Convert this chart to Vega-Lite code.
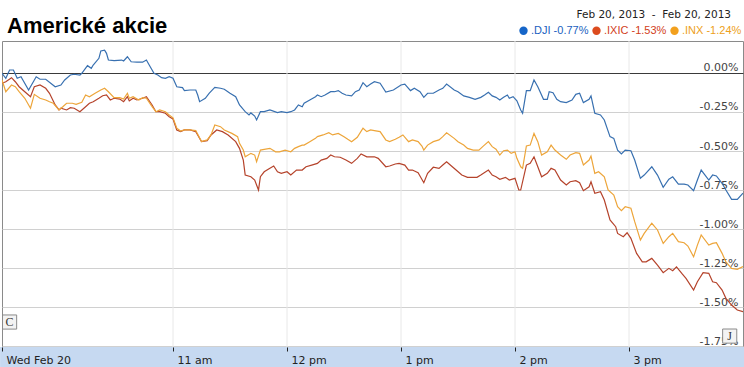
{
"$schema":"https://vega.github.io/schema/vega-lite/v6.json",
"width":741,"height":306,
"autosize":{"type":"none"},
"padding":{"left":2,"top":41,"right":1,"bottom":20},
"background":"white",
"title":{"text":"Americké akcie","anchor":"start","frame":"group","font":"Liberation Sans","fontSize":22,"fontWeight":"bold","color":"#000000","offset":10,"baseline":"alphabetic","dx":5,"dy":55},
"config":{"view":{"stroke":"#8a8a8a"}},
"layer":[
{
"data":{"values":[{"t":"11:00"},{"t":"12:00"},{"t":"13:00"},{"t":"14:00"},{"t":"15:00"}],"format":{"parse":{"t":"date:'%H:%M'"}}},
"mark":{"type":"rule","color":"#e8e8e8","strokeWidth":1},
"encoding":{"x":{"field":"t","type":"temporal","title":null}}
},
{
"data":{"values":[{"a":"09:29","b":"16:01","y1":-1.756,"y2":-1.9}],"format":{"parse":{"a":"date:'%H:%M'","b":"date:'%H:%M'"}}},
"mark":{"type":"rect","color":"#c6d9f1","clip":false},
"encoding":{"x":{"field":"a","type":"temporal","title":null},"x2":{"field":"b"},"y":{"field":"y1","type":"quantitative","title":null},"y2":{"field":"y2"}}
},
{
"data":{"values":[
{"s":".DJI","t":"09:30","v":-0.002},{"s":".DJI","t":"09:32","v":-0.034},{"s":".DJI","t":"09:34","v":0.019},{"s":".DJI","t":"09:36","v":0.019},{"s":".DJI","t":"09:38","v":-0.034},{"s":".DJI","t":"09:40","v":-0.024},{"s":".DJI","t":"09:44","v":-0.109},{"s":".DJI","t":"09:48","v":-0.024},{"s":".DJI","t":"09:50","v":-0.040},{"s":".DJI","t":"09:53","v":-0.040},{"s":".DJI","t":"09:58","v":-0.088},{"s":".DJI","t":"10:01","v":-0.077},{"s":".DJI","t":"10:03","v":-0.045},{"s":".DJI","t":"10:06","v":-0.013},{"s":".DJI","t":"10:08","v":-0.008},{"s":".DJI","t":"10:11","v":-0.013},{"s":".DJI","t":"10:12","v":-0.002},{"s":".DJI","t":"10:15","v":0.047},{"s":".DJI","t":"10:17","v":0.030},{"s":".DJI","t":"10:18","v":0.051},{"s":".DJI","t":"10:21","v":0.094},{"s":".DJI","t":"10:22","v":0.141},{"s":".DJI","t":"10:24","v":0.146},{"s":".DJI","t":"10:25","v":0.126},{"s":".DJI","t":"10:26","v":0.083},{"s":".DJI","t":"10:29","v":0.079},{"s":".DJI","t":"10:33","v":0.083},{"s":".DJI","t":"10:34","v":0.077},{"s":".DJI","t":"10:36","v":0.104},{"s":".DJI","t":"10:38","v":0.072},{"s":".DJI","t":"10:41","v":0.069},{"s":".DJI","t":"10:44","v":0.069},{"s":".DJI","t":"10:46","v":0.083},{"s":".DJI","t":"10:48","v":0.040},{"s":".DJI","t":"10:50","v":-0.002},{"s":".DJI","t":"10:52","v":-0.013},{"s":".DJI","t":"10:54","v":-0.030},{"s":".DJI","t":"10:56","v":-0.034},{"s":".DJI","t":"10:58","v":-0.024},{"s":".DJI","t":"11:00","v":-0.034},{"s":".DJI","t":"11:02","v":-0.088},{"s":".DJI","t":"11:05","v":-0.094},{"s":".DJI","t":"11:06","v":-0.113},{"s":".DJI","t":"11:09","v":-0.109},{"s":".DJI","t":"11:12","v":-0.109},{"s":".DJI","t":"11:13","v":-0.141},{"s":".DJI","t":"11:14","v":-0.184},{"s":".DJI","t":"11:17","v":-0.162},{"s":".DJI","t":"11:19","v":-0.130},{"s":".DJI","t":"11:22","v":-0.092},{"s":".DJI","t":"11:25","v":-0.098},{"s":".DJI","t":"11:27","v":-0.104},{"s":".DJI","t":"11:30","v":-0.130},{"s":".DJI","t":"11:33","v":-0.152},{"s":".DJI","t":"11:35","v":-0.205},{"s":".DJI","t":"11:38","v":-0.248},{"s":".DJI","t":"11:40","v":-0.269},{"s":".DJI","t":"11:41","v":-0.256},{"s":".DJI","t":"11:43","v":-0.276},{"s":".DJI","t":"11:44","v":-0.301},{"s":".DJI","t":"11:46","v":-0.248},{"s":".DJI","t":"11:48","v":-0.248},{"s":".DJI","t":"11:51","v":-0.237},{"s":".DJI","t":"11:55","v":-0.254},{"s":".DJI","t":"11:57","v":-0.248},{"s":".DJI","t":"12:00","v":-0.254},{"s":".DJI","t":"12:02","v":-0.248},{"s":".DJI","t":"12:04","v":-0.237},{"s":".DJI","t":"12:06","v":-0.205},{"s":".DJI","t":"12:08","v":-0.216},{"s":".DJI","t":"12:09","v":-0.194},{"s":".DJI","t":"12:12","v":-0.173},{"s":".DJI","t":"12:15","v":-0.152},{"s":".DJI","t":"12:16","v":-0.141},{"s":".DJI","t":"12:18","v":-0.152},{"s":".DJI","t":"12:20","v":-0.141},{"s":".DJI","t":"12:23","v":-0.120},{"s":".DJI","t":"12:25","v":-0.120},{"s":".DJI","t":"12:27","v":-0.113},{"s":".DJI","t":"12:29","v":-0.130},{"s":".DJI","t":"12:31","v":-0.141},{"s":".DJI","t":"12:34","v":-0.147},{"s":".DJI","t":"12:36","v":-0.120},{"s":".DJI","t":"12:38","v":-0.109},{"s":".DJI","t":"12:40","v":-0.062},{"s":".DJI","t":"12:42","v":-0.088},{"s":".DJI","t":"12:44","v":-0.071},{"s":".DJI","t":"12:46","v":-0.056},{"s":".DJI","t":"12:49","v":-0.066},{"s":".DJI","t":"12:52","v":-0.122},{"s":".DJI","t":"12:56","v":-0.109},{"s":".DJI","t":"13:00","v":-0.077},{"s":".DJI","t":"13:02","v":-0.071},{"s":".DJI","t":"13:05","v":-0.113},{"s":".DJI","t":"13:07","v":-0.098},{"s":".DJI","t":"13:10","v":-0.120},{"s":".DJI","t":"13:12","v":-0.156},{"s":".DJI","t":"13:14","v":-0.130},{"s":".DJI","t":"13:17","v":-0.130},{"s":".DJI","t":"13:20","v":-0.109},{"s":".DJI","t":"13:22","v":-0.098},{"s":".DJI","t":"13:24","v":-0.071},{"s":".DJI","t":"13:28","v":-0.109},{"s":".DJI","t":"13:30","v":-0.120},{"s":".DJI","t":"13:33","v":-0.147},{"s":".DJI","t":"13:36","v":-0.156},{"s":".DJI","t":"13:39","v":-0.169},{"s":".DJI","t":"13:42","v":-0.156},{"s":".DJI","t":"13:44","v":-0.141},{"s":".DJI","t":"13:46","v":-0.124},{"s":".DJI","t":"13:48","v":-0.147},{"s":".DJI","t":"13:50","v":-0.156},{"s":".DJI","t":"13:52","v":-0.173},{"s":".DJI","t":"13:54","v":-0.156},{"s":".DJI","t":"13:56","v":-0.141},{"s":".DJI","t":"13:57","v":-0.162},{"s":".DJI","t":"13:59","v":-0.152},{"s":".DJI","t":"14:01","v":-0.178},{"s":".DJI","t":"14:03","v":-0.237},{"s":".DJI","t":"14:04","v":-0.258},{"s":".DJI","t":"14:06","v":-0.113},{"s":".DJI","t":"14:08","v":-0.113},{"s":".DJI","t":"14:10","v":-0.045},{"s":".DJI","t":"14:12","v":-0.088},{"s":".DJI","t":"14:15","v":-0.169},{"s":".DJI","t":"14:17","v":-0.169},{"s":".DJI","t":"14:18","v":-0.120},{"s":".DJI","t":"14:20","v":-0.126},{"s":".DJI","t":"14:22","v":-0.169},{"s":".DJI","t":"14:24","v":-0.184},{"s":".DJI","t":"14:27","v":-0.190},{"s":".DJI","t":"14:30","v":-0.173},{"s":".DJI","t":"14:32","v":-0.137},{"s":".DJI","t":"14:34","v":-0.130},{"s":".DJI","t":"14:36","v":-0.190},{"s":".DJI","t":"14:39","v":-0.169},{"s":".DJI","t":"14:40","v":-0.147},{"s":".DJI","t":"14:42","v":-0.258},{"s":".DJI","t":"14:45","v":-0.269},{"s":".DJI","t":"14:47","v":-0.301},{"s":".DJI","t":"14:50","v":-0.408},{"s":".DJI","t":"14:52","v":-0.419},{"s":".DJI","t":"14:54","v":-0.494},{"s":".DJI","t":"14:56","v":-0.519},{"s":".DJI","t":"14:58","v":-0.494},{"s":".DJI","t":"15:01","v":-0.498},{"s":".DJI","t":"15:03","v":-0.558},{"s":".DJI","t":"15:06","v":-0.675},{"s":".DJI","t":"15:08","v":-0.654},{"s":".DJI","t":"15:12","v":-0.601},{"s":".DJI","t":"15:15","v":-0.654},{"s":".DJI","t":"15:18","v":-0.733},{"s":".DJI","t":"15:21","v":-0.681},{"s":".DJI","t":"15:23","v":-0.665},{"s":".DJI","t":"15:26","v":-0.712},{"s":".DJI","t":"15:29","v":-0.712},{"s":".DJI","t":"15:31","v":-0.718},{"s":".DJI","t":"15:34","v":-0.754},{"s":".DJI","t":"15:36","v":-0.686},{"s":".DJI","t":"15:38","v":-0.622},{"s":".DJI","t":"15:42","v":-0.686},{"s":".DJI","t":"15:44","v":-0.654},{"s":".DJI","t":"15:46","v":-0.660},{"s":".DJI","t":"15:49","v":-0.707},{"s":".DJI","t":"15:51","v":-0.750},{"s":".DJI","t":"15:54","v":-0.810},{"s":".DJI","t":"15:57","v":-0.810},{"s":".DJI","t":"16:00","v":-0.770},
{"s":".IXIC","t":"09:30","v":-0.066},{"s":".IXIC","t":"09:32","v":-0.056},{"s":".IXIC","t":"09:35","v":-0.030},{"s":".IXIC","t":"09:37","v":-0.056},{"s":".IXIC","t":"09:39","v":-0.088},{"s":".IXIC","t":"09:42","v":-0.120},{"s":".IXIC","t":"09:45","v":-0.152},{"s":".IXIC","t":"09:47","v":-0.088},{"s":".IXIC","t":"09:50","v":-0.077},{"s":".IXIC","t":"09:53","v":-0.098},{"s":".IXIC","t":"09:55","v":-0.130},{"s":".IXIC","t":"09:58","v":-0.205},{"s":".IXIC","t":"10:00","v":-0.237},{"s":".IXIC","t":"10:01","v":-0.226},{"s":".IXIC","t":"10:04","v":-0.237},{"s":".IXIC","t":"10:06","v":-0.222},{"s":".IXIC","t":"10:08","v":-0.226},{"s":".IXIC","t":"10:11","v":-0.248},{"s":".IXIC","t":"10:14","v":-0.216},{"s":".IXIC","t":"10:16","v":-0.194},{"s":".IXIC","t":"10:18","v":-0.184},{"s":".IXIC","t":"10:21","v":-0.162},{"s":".IXIC","t":"10:23","v":-0.146},{"s":".IXIC","t":"10:25","v":-0.141},{"s":".IXIC","t":"10:27","v":-0.173},{"s":".IXIC","t":"10:29","v":-0.162},{"s":".IXIC","t":"10:32","v":-0.167},{"s":".IXIC","t":"10:34","v":-0.184},{"s":".IXIC","t":"10:36","v":-0.152},{"s":".IXIC","t":"10:37","v":-0.179},{"s":".IXIC","t":"10:39","v":-0.162},{"s":".IXIC","t":"10:41","v":-0.173},{"s":".IXIC","t":"10:44","v":-0.162},{"s":".IXIC","t":"10:46","v":-0.152},{"s":".IXIC","t":"10:49","v":-0.205},{"s":".IXIC","t":"10:51","v":-0.248},{"s":".IXIC","t":"10:53","v":-0.248},{"s":".IXIC","t":"10:56","v":-0.258},{"s":".IXIC","t":"10:58","v":-0.280},{"s":".IXIC","t":"11:00","v":-0.295},{"s":".IXIC","t":"11:02","v":-0.365},{"s":".IXIC","t":"11:04","v":-0.376},{"s":".IXIC","t":"11:06","v":-0.365},{"s":".IXIC","t":"11:09","v":-0.365},{"s":".IXIC","t":"11:12","v":-0.376},{"s":".IXIC","t":"11:15","v":-0.440},{"s":".IXIC","t":"11:18","v":-0.434},{"s":".IXIC","t":"11:20","v":-0.397},{"s":".IXIC","t":"11:23","v":-0.365},{"s":".IXIC","t":"11:26","v":-0.376},{"s":".IXIC","t":"11:29","v":-0.397},{"s":".IXIC","t":"11:33","v":-0.440},{"s":".IXIC","t":"11:35","v":-0.483},{"s":".IXIC","t":"11:37","v":-0.558},{"s":".IXIC","t":"11:38","v":-0.654},{"s":".IXIC","t":"11:41","v":-0.665},{"s":".IXIC","t":"11:43","v":-0.686},{"s":".IXIC","t":"11:45","v":-0.750},{"s":".IXIC","t":"11:46","v":-0.665},{"s":".IXIC","t":"11:48","v":-0.633},{"s":".IXIC","t":"11:51","v":-0.611},{"s":".IXIC","t":"11:53","v":-0.596},{"s":".IXIC","t":"11:55","v":-0.633},{"s":".IXIC","t":"11:57","v":-0.643},{"s":".IXIC","t":"12:00","v":-0.633},{"s":".IXIC","t":"12:02","v":-0.654},{"s":".IXIC","t":"12:05","v":-0.622},{"s":".IXIC","t":"12:08","v":-0.622},{"s":".IXIC","t":"12:10","v":-0.601},{"s":".IXIC","t":"12:13","v":-0.590},{"s":".IXIC","t":"12:16","v":-0.579},{"s":".IXIC","t":"12:18","v":-0.558},{"s":".IXIC","t":"12:21","v":-0.547},{"s":".IXIC","t":"12:23","v":-0.526},{"s":".IXIC","t":"12:25","v":-0.537},{"s":".IXIC","t":"12:28","v":-0.540},{"s":".IXIC","t":"12:31","v":-0.558},{"s":".IXIC","t":"12:34","v":-0.579},{"s":".IXIC","t":"12:37","v":-0.547},{"s":".IXIC","t":"12:39","v":-0.519},{"s":".IXIC","t":"12:42","v":-0.537},{"s":".IXIC","t":"12:44","v":-0.537},{"s":".IXIC","t":"12:46","v":-0.537},{"s":".IXIC","t":"12:48","v":-0.547},{"s":".IXIC","t":"12:52","v":-0.601},{"s":".IXIC","t":"12:54","v":-0.596},{"s":".IXIC","t":"12:57","v":-0.583},{"s":".IXIC","t":"12:59","v":-0.579},{"s":".IXIC","t":"13:02","v":-0.590},{"s":".IXIC","t":"13:04","v":-0.622},{"s":".IXIC","t":"13:06","v":-0.622},{"s":".IXIC","t":"13:09","v":-0.639},{"s":".IXIC","t":"13:12","v":-0.703},{"s":".IXIC","t":"13:14","v":-0.643},{"s":".IXIC","t":"13:17","v":-0.604},{"s":".IXIC","t":"13:20","v":-0.611},{"s":".IXIC","t":"13:22","v":-0.590},{"s":".IXIC","t":"13:24","v":-0.569},{"s":".IXIC","t":"13:27","v":-0.601},{"s":".IXIC","t":"13:29","v":-0.622},{"s":".IXIC","t":"13:32","v":-0.654},{"s":".IXIC","t":"13:35","v":-0.669},{"s":".IXIC","t":"13:37","v":-0.669},{"s":".IXIC","t":"13:40","v":-0.669},{"s":".IXIC","t":"13:42","v":-0.654},{"s":".IXIC","t":"13:46","v":-0.622},{"s":".IXIC","t":"13:48","v":-0.654},{"s":".IXIC","t":"13:50","v":-0.665},{"s":".IXIC","t":"13:52","v":-0.681},{"s":".IXIC","t":"13:55","v":-0.669},{"s":".IXIC","t":"13:57","v":-0.686},{"s":".IXIC","t":"14:00","v":-0.675},{"s":".IXIC","t":"14:02","v":-0.750},{"s":".IXIC","t":"14:03","v":-0.750},{"s":".IXIC","t":"14:06","v":-0.590},{"s":".IXIC","t":"14:08","v":-0.579},{"s":".IXIC","t":"14:10","v":-0.537},{"s":".IXIC","t":"14:12","v":-0.601},{"s":".IXIC","t":"14:14","v":-0.665},{"s":".IXIC","t":"14:17","v":-0.643},{"s":".IXIC","t":"14:19","v":-0.611},{"s":".IXIC","t":"14:21","v":-0.622},{"s":".IXIC","t":"14:24","v":-0.686},{"s":".IXIC","t":"14:27","v":-0.718},{"s":".IXIC","t":"14:29","v":-0.697},{"s":".IXIC","t":"14:32","v":-0.690},{"s":".IXIC","t":"14:34","v":-0.703},{"s":".IXIC","t":"14:36","v":-0.754},{"s":".IXIC","t":"14:39","v":-0.729},{"s":".IXIC","t":"14:40","v":-0.697},{"s":".IXIC","t":"14:42","v":-0.771},{"s":".IXIC","t":"14:45","v":-0.761},{"s":".IXIC","t":"14:47","v":-0.814},{"s":".IXIC","t":"14:50","v":-0.942},{"s":".IXIC","t":"14:53","v":-0.985},{"s":".IXIC","t":"14:54","v":-1.028},{"s":".IXIC","t":"14:57","v":-1.049},{"s":".IXIC","t":"14:59","v":-1.024},{"s":".IXIC","t":"15:01","v":-1.060},{"s":".IXIC","t":"15:04","v":-1.156},{"s":".IXIC","t":"15:07","v":-1.210},{"s":".IXIC","t":"15:09","v":-1.210},{"s":".IXIC","t":"15:12","v":-1.188},{"s":".IXIC","t":"15:15","v":-1.231},{"s":".IXIC","t":"15:18","v":-1.280},{"s":".IXIC","t":"15:21","v":-1.252},{"s":".IXIC","t":"15:23","v":-1.267},{"s":".IXIC","t":"15:25","v":-1.242},{"s":".IXIC","t":"15:28","v":-1.288},{"s":".IXIC","t":"15:30","v":-1.316},{"s":".IXIC","t":"15:34","v":-1.391},{"s":".IXIC","t":"15:36","v":-1.338},{"s":".IXIC","t":"15:39","v":-1.280},{"s":".IXIC","t":"15:42","v":-1.284},{"s":".IXIC","t":"15:44","v":-1.338},{"s":".IXIC","t":"15:46","v":-1.344},{"s":".IXIC","t":"15:49","v":-1.391},{"s":".IXIC","t":"15:51","v":-1.444},{"s":".IXIC","t":"15:54","v":-1.487},{"s":".IXIC","t":"15:57","v":-1.519},{"s":".IXIC","t":"16:00","v":-1.530},
{"s":".INX","t":"09:30","v":-0.045},{"s":".INX","t":"09:32","v":-0.120},{"s":".INX","t":"09:35","v":-0.077},{"s":".INX","t":"09:37","v":-0.088},{"s":".INX","t":"09:39","v":-0.120},{"s":".INX","t":"09:42","v":-0.162},{"s":".INX","t":"09:45","v":-0.226},{"s":".INX","t":"09:47","v":-0.137},{"s":".INX","t":"09:50","v":-0.162},{"s":".INX","t":"09:53","v":-0.173},{"s":".INX","t":"09:55","v":-0.184},{"s":".INX","t":"09:57","v":-0.194},{"s":".INX","t":"10:00","v":-0.237},{"s":".INX","t":"10:02","v":-0.216},{"s":".INX","t":"10:04","v":-0.194},{"s":".INX","t":"10:07","v":-0.194},{"s":".INX","t":"10:09","v":-0.201},{"s":".INX","t":"10:12","v":-0.188},{"s":".INX","t":"10:14","v":-0.141},{"s":".INX","t":"10:16","v":-0.152},{"s":".INX","t":"10:19","v":-0.130},{"s":".INX","t":"10:22","v":-0.109},{"s":".INX","t":"10:24","v":-0.098},{"s":".INX","t":"10:26","v":-0.120},{"s":".INX","t":"10:29","v":-0.158},{"s":".INX","t":"10:32","v":-0.158},{"s":".INX","t":"10:34","v":-0.167},{"s":".INX","t":"10:36","v":-0.130},{"s":".INX","t":"10:37","v":-0.162},{"s":".INX","t":"10:39","v":-0.152},{"s":".INX","t":"10:42","v":-0.173},{"s":".INX","t":"10:44","v":-0.158},{"s":".INX","t":"10:46","v":-0.162},{"s":".INX","t":"10:49","v":-0.216},{"s":".INX","t":"10:51","v":-0.248},{"s":".INX","t":"10:53","v":-0.237},{"s":".INX","t":"10:56","v":-0.248},{"s":".INX","t":"10:58","v":-0.269},{"s":".INX","t":"11:00","v":-0.287},{"s":".INX","t":"11:02","v":-0.354},{"s":".INX","t":"11:04","v":-0.372},{"s":".INX","t":"11:06","v":-0.365},{"s":".INX","t":"11:09","v":-0.365},{"s":".INX","t":"11:12","v":-0.369},{"s":".INX","t":"11:15","v":-0.440},{"s":".INX","t":"11:18","v":-0.429},{"s":".INX","t":"11:20","v":-0.397},{"s":".INX","t":"11:22","v":-0.333},{"s":".INX","t":"11:25","v":-0.344},{"s":".INX","t":"11:27","v":-0.365},{"s":".INX","t":"11:31","v":-0.387},{"s":".INX","t":"11:34","v":-0.408},{"s":".INX","t":"11:35","v":-0.451},{"s":".INX","t":"11:37","v":-0.494},{"s":".INX","t":"11:38","v":-0.537},{"s":".INX","t":"11:41","v":-0.515},{"s":".INX","t":"11:43","v":-0.526},{"s":".INX","t":"11:44","v":-0.569},{"s":".INX","t":"11:46","v":-0.494},{"s":".INX","t":"11:48","v":-0.489},{"s":".INX","t":"11:51","v":-0.483},{"s":".INX","t":"11:54","v":-0.505},{"s":".INX","t":"11:56","v":-0.505},{"s":".INX","t":"11:59","v":-0.494},{"s":".INX","t":"12:02","v":-0.505},{"s":".INX","t":"12:04","v":-0.483},{"s":".INX","t":"12:06","v":-0.472},{"s":".INX","t":"12:08","v":-0.462},{"s":".INX","t":"12:09","v":-0.462},{"s":".INX","t":"12:12","v":-0.440},{"s":".INX","t":"12:15","v":-0.419},{"s":".INX","t":"12:16","v":-0.408},{"s":".INX","t":"12:19","v":-0.397},{"s":".INX","t":"12:22","v":-0.383},{"s":".INX","t":"12:24","v":-0.397},{"s":".INX","t":"12:27","v":-0.387},{"s":".INX","t":"12:30","v":-0.408},{"s":".INX","t":"12:32","v":-0.425},{"s":".INX","t":"12:34","v":-0.440},{"s":".INX","t":"12:37","v":-0.412},{"s":".INX","t":"12:40","v":-0.354},{"s":".INX","t":"12:42","v":-0.376},{"s":".INX","t":"12:44","v":-0.365},{"s":".INX","t":"12:46","v":-0.369},{"s":".INX","t":"12:49","v":-0.376},{"s":".INX","t":"12:52","v":-0.429},{"s":".INX","t":"12:54","v":-0.440},{"s":".INX","t":"12:57","v":-0.425},{"s":".INX","t":"12:59","v":-0.412},{"s":".INX","t":"13:01","v":-0.397},{"s":".INX","t":"13:04","v":-0.440},{"s":".INX","t":"13:06","v":-0.429},{"s":".INX","t":"13:09","v":-0.440},{"s":".INX","t":"13:11","v":-0.468},{"s":".INX","t":"13:12","v":-0.494},{"s":".INX","t":"13:14","v":-0.462},{"s":".INX","t":"13:17","v":-0.440},{"s":".INX","t":"13:20","v":-0.429},{"s":".INX","t":"13:22","v":-0.408},{"s":".INX","t":"13:24","v":-0.383},{"s":".INX","t":"13:28","v":-0.419},{"s":".INX","t":"13:30","v":-0.440},{"s":".INX","t":"13:33","v":-0.462},{"s":".INX","t":"13:35","v":-0.483},{"s":".INX","t":"13:38","v":-0.494},{"s":".INX","t":"13:41","v":-0.494},{"s":".INX","t":"13:43","v":-0.472},{"s":".INX","t":"13:46","v":-0.440},{"s":".INX","t":"13:48","v":-0.472},{"s":".INX","t":"13:50","v":-0.489},{"s":".INX","t":"13:52","v":-0.526},{"s":".INX","t":"13:54","v":-0.498},{"s":".INX","t":"13:56","v":-0.494},{"s":".INX","t":"13:58","v":-0.515},{"s":".INX","t":"14:00","v":-0.505},{"s":".INX","t":"14:01","v":-0.547},{"s":".INX","t":"14:03","v":-0.601},{"s":".INX","t":"14:04","v":-0.611},{"s":".INX","t":"14:06","v":-0.468},{"s":".INX","t":"14:08","v":-0.462},{"s":".INX","t":"14:10","v":-0.387},{"s":".INX","t":"14:12","v":-0.440},{"s":".INX","t":"14:14","v":-0.526},{"s":".INX","t":"14:17","v":-0.505},{"s":".INX","t":"14:19","v":-0.462},{"s":".INX","t":"14:21","v":-0.494},{"s":".INX","t":"14:24","v":-0.526},{"s":".INX","t":"14:27","v":-0.553},{"s":".INX","t":"14:29","v":-0.526},{"s":".INX","t":"14:32","v":-0.511},{"s":".INX","t":"14:34","v":-0.515},{"s":".INX","t":"14:36","v":-0.590},{"s":".INX","t":"14:39","v":-0.558},{"s":".INX","t":"14:40","v":-0.532},{"s":".INX","t":"14:42","v":-0.643},{"s":".INX","t":"14:44","v":-0.633},{"s":".INX","t":"14:47","v":-0.665},{"s":".INX","t":"14:49","v":-0.750},{"s":".INX","t":"14:52","v":-0.782},{"s":".INX","t":"14:54","v":-0.857},{"s":".INX","t":"14:56","v":-0.882},{"s":".INX","t":"14:58","v":-0.857},{"s":".INX","t":"15:01","v":-0.867},{"s":".INX","t":"15:03","v":-0.953},{"s":".INX","t":"15:06","v":-1.071},{"s":".INX","t":"15:08","v":-1.028},{"s":".INX","t":"15:12","v":-0.963},{"s":".INX","t":"15:15","v":-1.006},{"s":".INX","t":"15:18","v":-1.092},{"s":".INX","t":"15:21","v":-1.049},{"s":".INX","t":"15:23","v":-1.028},{"s":".INX","t":"15:26","v":-1.081},{"s":".INX","t":"15:29","v":-1.088},{"s":".INX","t":"15:31","v":-1.109},{"s":".INX","t":"15:34","v":-1.178},{"s":".INX","t":"15:36","v":-1.103},{"s":".INX","t":"15:38","v":-1.038},{"s":".INX","t":"15:42","v":-1.103},{"s":".INX","t":"15:44","v":-1.092},{"s":".INX","t":"15:46","v":-1.088},{"s":".INX","t":"15:49","v":-1.156},{"s":".INX","t":"15:51","v":-1.210},{"s":".INX","t":"15:54","v":-1.252},{"s":".INX","t":"15:57","v":-1.258},{"s":".INX","t":"16:00","v":-1.240}
],"format":{"parse":{"t":"date:'%H:%M'"}}},
"mark":{"type":"line","strokeWidth":1.2,"clip":true},
"encoding":{
"x":{"field":"t","type":"temporal","title":null,
"scale":{"domain":[{"year":1900,"month":1,"date":1,"hours":9,"minutes":30},{"year":1900,"month":1,"date":1,"hours":16,"minutes":0}]},
"axis":{"orient":"bottom","values":[{"year":1900,"month":1,"date":1,"hours":9,"minutes":30},{"year":1900,"month":1,"date":1,"hours":11},{"year":1900,"month":1,"date":1,"hours":12},{"year":1900,"month":1,"date":1,"hours":13},{"year":1900,"month":1,"date":1,"hours":14},{"year":1900,"month":1,"date":1,"hours":15}],
"domain":false,"ticks":true,"tickSize":4,"tickColor":"#222222","tickWidth":1,"zindex":1,
"labelAlign":"left","labelOffset":4,"labelPadding":12,"labelBaseline":"alphabetic","labelFont":"DejaVu Sans","labelFontSize":11,"labelColor":"#222222",
"labelExpr":"hours(datum.value) < 10 ? 'Wed Feb 20' : lower(timeFormat(datum.value, '%-I %p'))",
"grid":false,"labelFlush":false,"labelOverlap":false,"labelBound":false}},
"y":{"field":"v","type":"quantitative","title":null,
"scale":{"domain":[-1.756,0.205],"nice":false,"zero":false},
"axis":{"orient":"right","values":[-1.75,-1.5,-1.25,-1,-0.75,-0.5,-0.25,0],"domain":false,"ticks":false,
"labelAlign":"right","labelPadding":-5,"labelBaseline":"alphabetic","labelOffset":-2,"labelFont":"DejaVu Sans","labelFontSize":11,"labelColor":"#444444",
"labelExpr":"(datum.value < 0 ? '-' : '') + format(abs(datum.value), '.2f') + '%'",
"grid":true,"gridColor":{"condition":{"test":"datum.value == 0","value":"#3a3a3a"},"value":"#d0d0d0"},
"labelFlush":false,"labelOverlap":false,"labelBound":false}},
"color":{"field":"s","type":"nominal",
"scale":{"domain":[".DJI",".IXIC",".INX"],"range":["#3870b0","#b5432b","#eda53a"]},
"legend":{"orient":"none","legendX":516,"legendY":-31.5,"direction":"horizontal",
"title":"Feb 20, 2013 \u00a0-\u00a0 Feb 20, 2013","titleFont":"DejaVu Sans","titleFontSize":10.5,"titleFontWeight":"normal","titleColor":"#222222","titleAnchor":"end","titlePadding":5,
"symbolType":"circle","symbolSize":70,"symbolStrokeWidth":0,
"labelFont":"Liberation Sans","labelFontSize":11,"labelOffset":2,"columnPadding":2,
"labelExpr":"datum.label == '.DJI' ? '.DJI -0.77%' : datum.label == '.IXIC' ? '.IXIC -1.53%' : '.INX -1.24%'",
"encode":{
"title":{"update":{"dx":{"value":-10}}},
"symbols":{"update":{"fill":{"signal":"datum.value == '.DJI' ? '#1565c8' : datum.value == '.IXIC' ? '#dc4b1e' : '#f2a01e'"},"stroke":{"value":"transparent"}}},
"labels":{"update":{"fill":{"signal":"datum.value == '.DJI' ? '#1a5fc0' : datum.value == '.IXIC' ? '#d2401a' : '#eda020'"}}}
}}}
}
},
{
"data":{"values":[{"t":"09:34","v":-1.596,"f":"C"},{"t":"15:53","v":-1.686,"f":"J"}],"format":{"parse":{"t":"date:'%H:%M'"}}},
"encoding":{"x":{"field":"t","type":"temporal","title":null},"y":{"field":"v","type":"quantitative","title":null}},
"layer":[
{"mark":{"type":"square","size":200,"filled":true,"fill":"#f3f3f3","stroke":"#8a8a8a","strokeWidth":1,"opacity":1}},
{"mark":{"type":"text","font":"Liberation Serif","fontSize":12,"color":"#333333","baseline":"middle","align":"center"},"encoding":{"text":{"field":"f"}}}
]
}
]
}
